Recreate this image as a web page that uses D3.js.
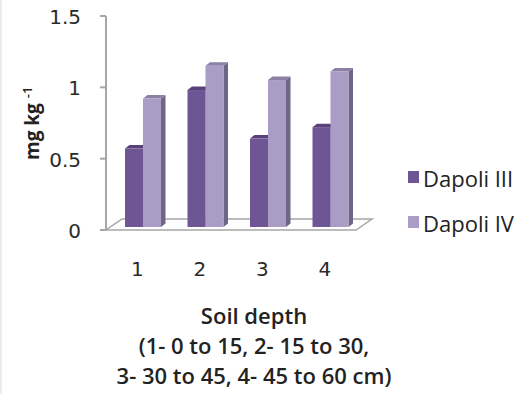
<!DOCTYPE html>
<html>
<head>
<meta charset="utf-8">
<script src="https://cdn.jsdelivr.net/npm/d3@7"></script>
<style>
  body { margin: 0; background: #fff; }
  svg { display: block; }
</style>
</head>
<body>
<script>
// data
const categories = ["1", "2", "3", "4"];
const seriesNames = ["Dapoli III", "Dapoli IV"];
const dapoli3 = [0.55, 0.96, 0.62, 0.70];
const dapoli4 = [0.90, 1.13, 1.03, 1.09];
const yTicks = [0, 0.5, 1, 1.5];
const xTitleLines = ["Soil depth", "(1- 0 to 15, 2- 15 to 30,", "3- 30 to 45, 4- 45 to 60 cm)"];

const width = 528, height = 394;
const colors = {
  front: ["#6e5594", "#a99cc5"],
  top: ["#5a4179", "#8b80a6"],
  side: ["#4f3a6b", "#6f6586"]
};

const svg = d3.select("body").append("svg")
  .attr("width", width)
  .attr("height", height);

// faint frame line on the left edge
svg.append("line")
  .attr("x1", 1).attr("x2", 1).attr("y1", 0).attr("y2", height)
  .attr("stroke", "#e4e4e4").attr("stroke-width", 1.5);

const y = d3.scaleLinear().domain([0, 1.5]).range([230, 16]);
const x = d3.scaleBand().domain(categories).range([106, 356]);
const floorDx = 16, floorDy = -11; // depth of the floor
const barDx = 4.5, barDy = -3.5;   // depth of each bar
const barLift = 3;                 // bars sit a bit behind the front edge
const barW = 18, barOff = 19;

// floor
svg.append("polygon")
  .attr("points", [
    [x.range()[0], y(0)], [x.range()[1], y(0)],
    [x.range()[1] + floorDx, y(0) + floorDy], [x.range()[0] + floorDx, y(0) + floorDy]
  ].map(p => p.join(",")).join(" "))
  .attr("fill", "#fff")
  .attr("stroke", "#a6a6a6")
  .attr("stroke-width", 1.5);

// value axis
svg.append("line")
  .attr("x1", 106).attr("x2", 106)
  .attr("y1", y(1.5)).attr("y2", y(0))
  .attr("stroke", "#a6a6a6").attr("stroke-width", 2);

svg.selectAll(".ytick")
  .data(yTicks)
  .join("line")
  .attr("class", "ytick")
  .attr("x1", 100).attr("x2", 106)
  .attr("y1", d => y(d)).attr("y2", d => y(d))
  .attr("stroke", "#a6a6a6").attr("stroke-width", 2);

svg.selectAll(".ylabel")
  .data(yTicks)
  .join("text")
  .attr("class", "ylabel")
  .attr("x", 81)
  .attr("y", d => y(d) + 1)
  .attr("text-anchor", "end")
  .attr("dominant-baseline", "central")
  .style("font-family", "DejaVu Sans")
  .style("font-size", "20px")
  .attr("fill", "#2a2a2a")
  .text(d => d);

// bars (front, top, side)
const rows = [];
categories.forEach((c, ci) => {
  [dapoli3, dapoli4].forEach((vals, si) => {
    rows.push({ cat: c, s: si, v: vals[ci] });
  });
});

const bar = svg.selectAll(".bar")
  .data(rows)
  .join("g")
  .attr("class", "bar");

bar.append("polygon")
  .attr("points", d => {
    const x0 = x(d.cat) + barOff + d.s * barW + barW;
    const yt = y(d.v) - barLift, yb = y(0) - barLift;
    return [[x0, yt], [x0 + barDx, yt + barDy], [x0 + barDx, yb + barDy], [x0, yb]].map(p => p.join(",")).join(" ");
  })
  .attr("fill", d => colors.side[d.s]);

bar.append("polygon")
  .attr("points", d => {
    const x0 = x(d.cat) + barOff + d.s * barW;
    const yt = y(d.v) - barLift;
    return [[x0, yt], [x0 + barW, yt], [x0 + barW + barDx, yt + barDy], [x0 + barDx, yt + barDy]].map(p => p.join(",")).join(" ");
  })
  .attr("fill", d => colors.top[d.s]);

bar.append("rect")
  .attr("x", d => x(d.cat) + barOff + d.s * barW)
  .attr("y", d => y(d.v) - barLift)
  .attr("width", barW)
  .attr("height", d => y(0) - y(d.v))
  .attr("fill", d => colors.front[d.s]);

// category labels
svg.selectAll(".xlabel")
  .data(categories)
  .join("text")
  .attr("class", "xlabel")
  .attr("x", d => x(d) + x.bandwidth() / 2)
  .attr("y", 269)
  .attr("text-anchor", "middle")
  .attr("dominant-baseline", "central")
  .style("font-family", "DejaVu Sans")
  .style("font-size", "20px")
  .attr("fill", "#2a2a2a")
  .text(d => d);

// axis titles
const yTitle = svg.append("text")
  .attr("transform", "translate(39,160) rotate(-90)")
  .style("font-family", "Open Sans")
  .style("font-size", "19px")
  .style("font-weight", "700")
  .attr("fill", "#222");
yTitle.append("tspan").text("mg kg ");
yTitle.append("tspan").attr("dy", -7).style("font-size", "13px").style("font-weight", "600").text("-1");

svg.selectAll(".xtitle")
  .data(xTitleLines)
  .join("text")
  .attr("class", "xtitle")
  .attr("x", 254)
  .attr("y", (d, i) => [324, 354, 384][i])
  .attr("text-anchor", "middle")
  .style("font-family", "Open Sans")
  .style("font-size", "22px")
  .style("font-weight", "600")
  .attr("fill", "#222")
  .text(d => d);

// legend
const legend = svg.selectAll(".legend")
  .data(seriesNames)
  .join("g")
  .attr("class", "legend")
  .attr("transform", (d, i) => `translate(408, ${177 + i * 45})`);

legend.append("rect")
  .attr("x", 0).attr("y", -6)
  .attr("width", 11).attr("height", 12)
  .attr("fill", (d, i) => colors.front[i]);

legend.append("text")
  .attr("x", 15)
  .attr("y", 1)
  .attr("dominant-baseline", "central")
  .style("font-family", "Open Sans")
  .style("font-size", "22px")
  .attr("fill", "#222")
  .text(d => d);
</script>
</body>
</html>
